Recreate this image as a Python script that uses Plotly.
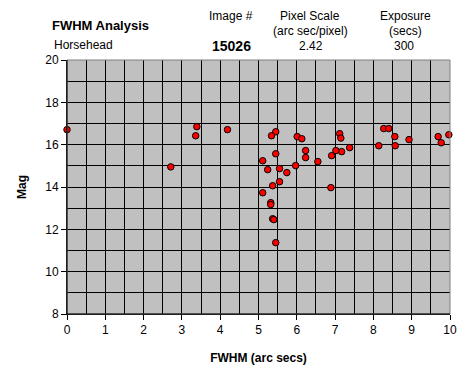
import plotly.graph_objects as go

fwhm = [0.0, 3.39, 3.36, 4.19, 2.71,
        5.45, 5.34, 6.01, 6.13, 7.12, 7.15, 8.27, 8.40, 8.56, 8.93, 9.69, 9.97, 9.77,
        8.57, 8.14, 7.38, 7.17, 7.02, 6.91, 6.23, 6.23, 5.45, 5.11, 6.55, 5.97,
        5.24, 5.55, 5.74, 5.55, 5.37, 6.89, 5.11, 5.32, 5.32, 5.37, 5.40, 5.45]
mag = [16.71, 16.85, 16.42, 16.71, 14.95,
       16.61, 16.42, 16.38, 16.28, 16.52, 16.31, 16.76, 16.76, 16.38, 16.24, 16.38, 16.47, 16.09,
       15.95, 15.95, 15.86, 15.67, 15.72, 15.48, 15.72, 15.39, 15.57, 15.24, 15.20, 15.01,
       14.82, 14.87, 14.68, 14.25, 14.06, 13.97, 13.73, 13.26, 13.17, 12.50, 12.46, 11.37]

x_ticks = list(range(0, 11))
y_ticks = [8, 10, 12, 14, 16, 18, 20]

font = "Liberation Sans, Arial, sans-serif"

# page body has an 8px default margin; compensate so the plot area sits at
# x 67..450, y 60..314 in the window
OFF = 8
PL, PR, PT, PB = 67, 450, 60, 314

fig = go.Figure()
fig.add_trace(go.Scatter(
    x=fwhm, y=mag, mode="markers",
    marker=dict(symbol="circle", size=6.5, color="#ff0000",
                line=dict(color="#000000", width=1)),
    cliponaxis=False, showlegend=False))

fig.update_layout(
    width=471, height=383,
    margin=dict(l=PL - OFF, r=471 + OFF - PR, t=PT - OFF, b=383 + OFF - PB),
    paper_bgcolor="white", plot_bgcolor="#c0c0c0",
    font=dict(family=font, size=12, color="black"),
    xaxis=dict(range=[0, 10], tickvals=x_ticks, ticktext=[str(v) for v in x_ticks],
               showgrid=True, gridcolor="black", gridwidth=1,
               minor=dict(dtick=0.5, showgrid=True, gridcolor="black", gridwidth=1),
               ticks="outside", ticklen=5, tickcolor="black",
               showline=True, linecolor="black", linewidth=1,
               zeroline=False, tickfont=dict(size=12), automargin=False,
               title=dict(text="<b>FWHM (arc secs)</b>", font=dict(size=12), standoff=17)),
    yaxis=dict(range=[8, 20], tickvals=y_ticks, ticktext=[str(v) for v in y_ticks],
               showgrid=True, gridcolor="black", gridwidth=1,
               minor=dict(dtick=1, showgrid=True, gridcolor="black", gridwidth=1),
               ticks="outside", ticklen=5, tickcolor="black",
               showline=True, linecolor="black", linewidth=1,
               zeroline=False, tickfont=dict(size=12), automargin=False,
               title=dict(text="<b>Mag</b>", font=dict(size=12), standoff=16)),
)

fig.add_shape(type="rect", xref="paper", yref="paper", x0=0, x1=1, y0=0, y1=1,
              line=dict(color="#808080", width=1), layer="above")
fig.add_shape(type="line", xref="paper", yref="paper", x0=0, x1=0, y0=0, y1=1,
              line=dict(color="black", width=1), layer="above")
fig.add_shape(type="line", xref="paper", yref="paper", x0=0, x1=1, y0=0, y1=0,
              line=dict(color="black", width=1), layer="above")


def ann_px(text, xp, yp, size=12, bold=False, xanchor="center"):
    x = (xp - PL) / (PR - PL)
    y = (PB - yp) / (PB - PT)
    t = f"<b>{text}</b>" if bold else text
    fig.add_annotation(text=t, x=x, y=y, xref="paper", yref="paper",
                       showarrow=False, xanchor=xanchor, yanchor="middle",
                       font=dict(family=font, size=size, color="black"))


ann_px("FWHM Analysis", 50, 25, size=13, bold=True, xanchor="left")
ann_px("Horsehead", 52, 45, size=12, xanchor="left")
ann_px("Image #", 231, 16, size=12)
ann_px("15026", 231, 46, size=14, bold=True)
ann_px("Pixel Scale", 310, 16, size=12)
ann_px("(arc sec/pixel)", 310, 31, size=12)
ann_px("2.42", 311, 46, size=12)
ann_px("Exposure", 405, 16, size=12)
ann_px("(secs)", 405, 31, size=12)
ann_px("300", 404, 46, size=12)

fig.write_html("out.html")
